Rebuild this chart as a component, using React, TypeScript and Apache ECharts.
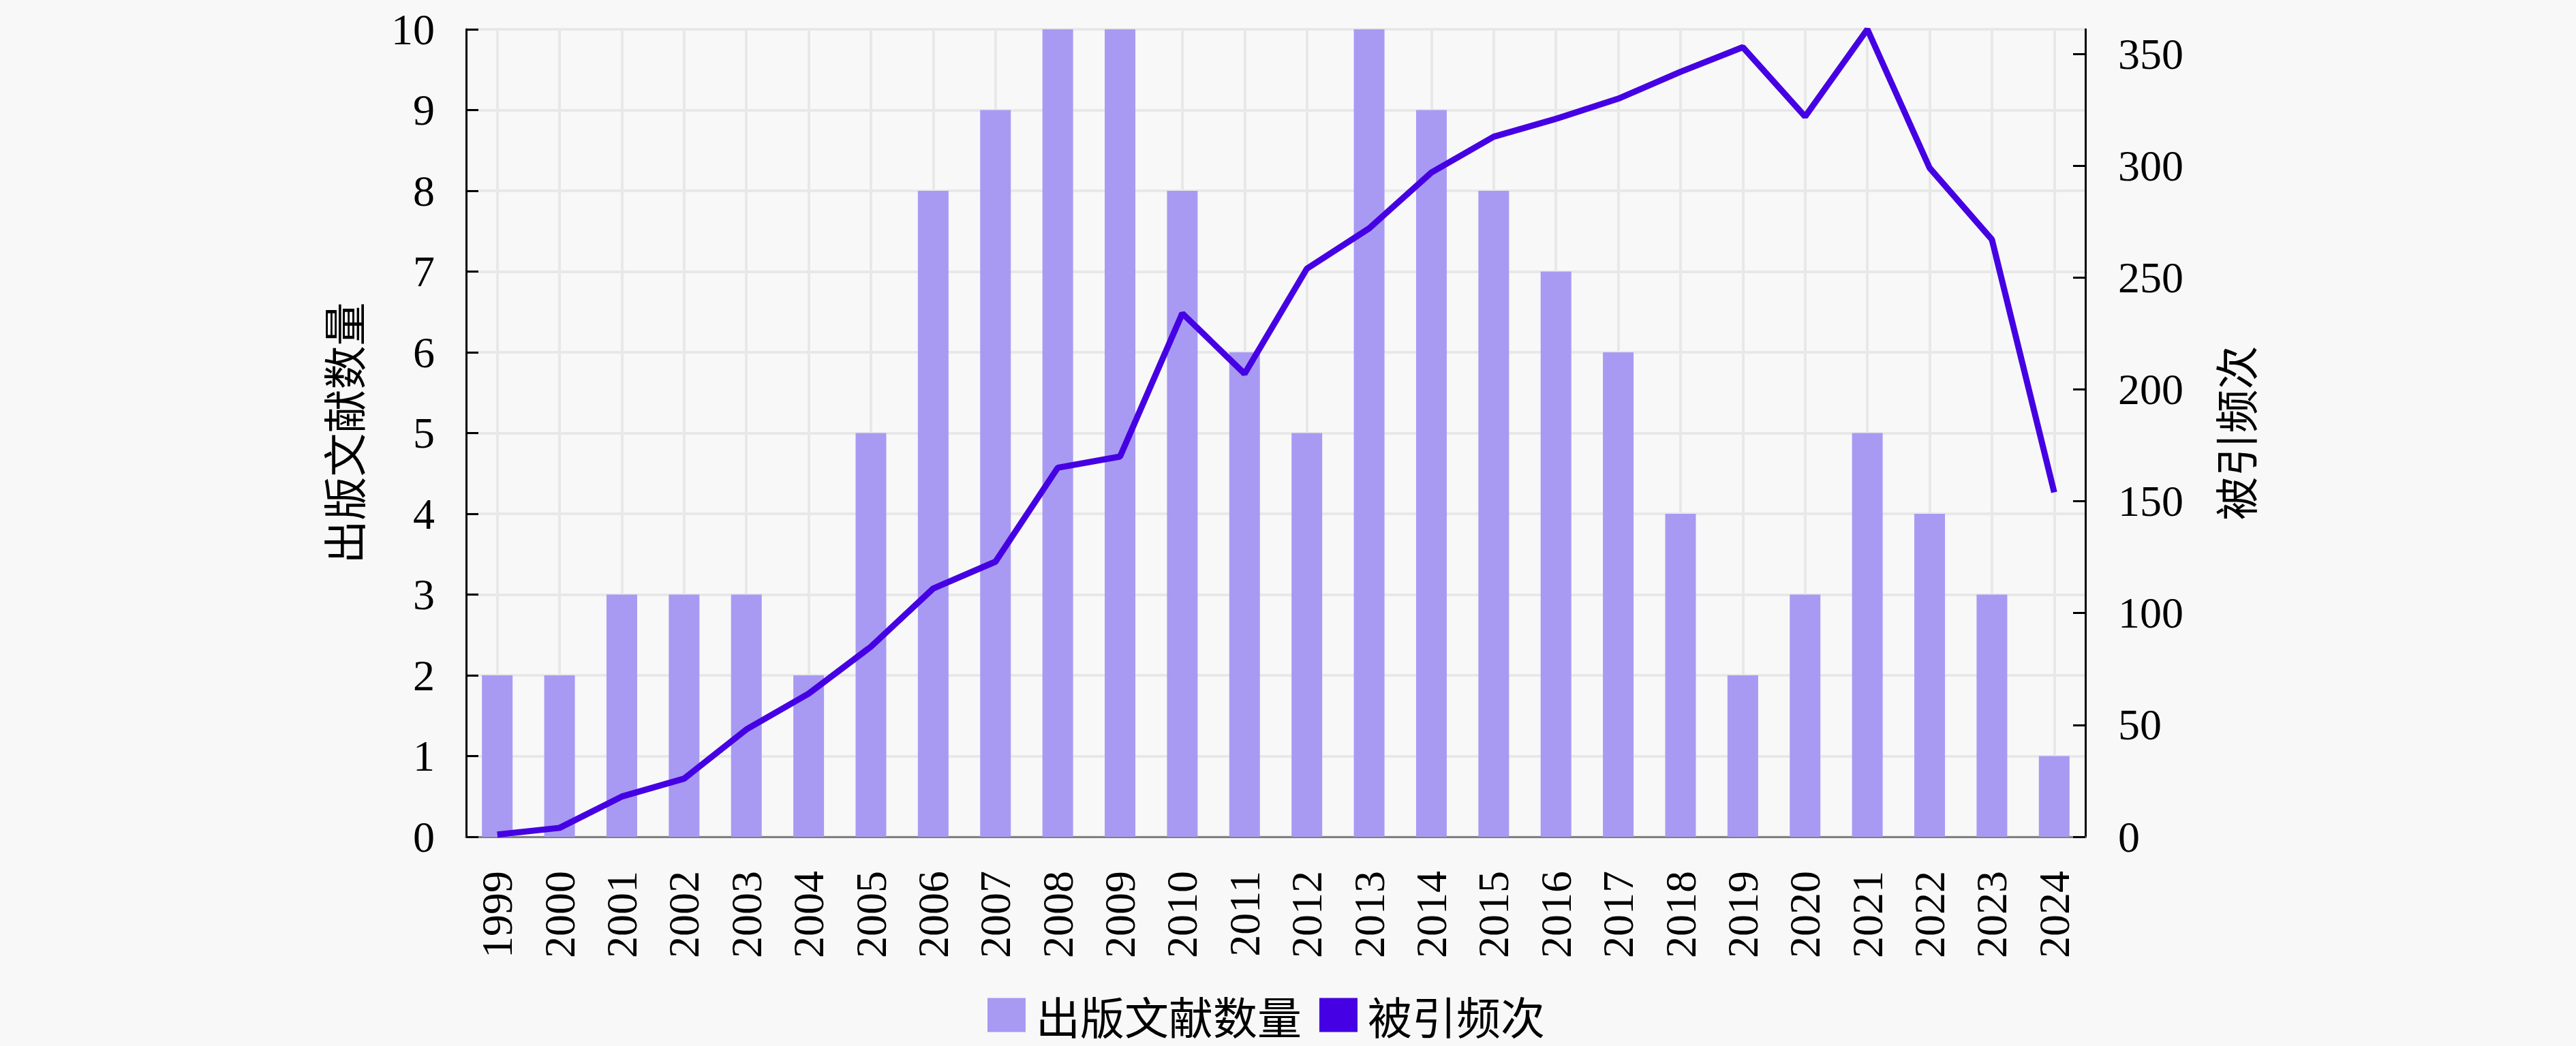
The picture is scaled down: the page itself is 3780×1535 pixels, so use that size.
import React, { useEffect, useRef } from "react";
import * as echarts from "echarts";

const years = [
  "1999", "2000", "2001", "2002", "2003", "2004", "2005", "2006", "2007",
  "2008", "2009", "2010", "2011", "2012", "2013", "2014", "2015", "2016",
  "2017", "2018", "2019", "2020", "2021", "2022", "2023", "2024",
];
const publications = [2, 2, 3, 3, 3, 2, 5, 8, 9, 10, 10, 8, 6, 5, 10, 9, 8, 7, 6, 4, 2, 3, 5, 4, 3, 1];
const citations = [1, 4, 18, 26, 48, 64, 85, 111, 123, 165, 170, 234, 207, 254, 272, 297, 313, 321, 330, 342, 353, 322, 361, 299, 267, 154];
const leftMax = 10;
const rightMax = 361;
const rightTickValues = [0, 50, 100, 150, 200, 250, 300, 350];

const barName = "出版文献数量";
const lineName = "被引频次";

const FONT = "'Liberation Serif', 'Noto Sans CJK SC', serif";
const CJK = "'Noto Sans CJK SC', 'Liberation Serif', sans-serif";

export default function App() {
  const ref = useRef<HTMLDivElement>(null);

  useEffect(() => {
    document.body.style.margin = "0";
    if (!ref.current) return;
    const chart = echarts.init(ref.current, undefined, { renderer: "svg" });
    chart.setOption({
      animation: false,
      backgroundColor: "#f8f8f8",
      grid: { left: 684, right: 720, top: 43, bottom: 307, containLabel: false },
      legend: {
        left: 1444,
        top: 1452,
        itemWidth: 56,
        itemHeight: 50,
        itemGap: 26,
        textStyle: { fontSize: 65, fontFamily: CJK, color: "#000", padding: [0, 0, 0, 10] },
        data: [
          { name: barName, icon: "rect" },
          { name: lineName, icon: "rect" },
        ],
      },
      xAxis: [
        {
          type: "category",
          data: years,
          position: "bottom",
          boundaryGap: true,
          axisLine: { show: true, lineStyle: { color: "#000", width: 3 } },
          axisTick: { show: true, inside: true, alignWithLabel: true, length: 14, lineStyle: { color: "#222", width: 3 } },
          axisLabel: { rotate: 90, margin: 50, fontSize: 64, fontFamily: FONT, color: "#000", interval: 0 },
          splitLine: { show: true, alignWithLabel: true, lineStyle: { color: "#e8e8e8", width: 4 } },
        },
        {
          type: "category",
          data: years,
          position: "top",
          boundaryGap: true,
          axisLine: { show: true, lineStyle: { color: "#808080", width: 3 } },
          axisTick: { show: false },
          axisLabel: { show: false },
          splitLine: { show: false },
        },
      ],
      yAxis: [
        {
          type: "value",
          min: 0,
          max: leftMax,
          interval: 1,
          position: "left",
          name: barName,
          nameLocation: "middle",
          nameRotate: 90,
          nameGap: 150,
          nameTextStyle: { fontSize: 64, fontFamily: CJK, color: "#000" },
          axisLine: { show: true, lineStyle: { color: "#000", width: 3 } },
          axisTick: { show: true, inside: true, length: 18, lineStyle: { color: "#000", width: 3 } },
          axisLabel: { margin: 46, fontSize: 64, fontFamily: FONT, color: "#000" },
          splitLine: { show: true, lineStyle: { color: "#e8e8e8", width: 4 } },
        },
        {
          type: "value",
          min: 0,
          max: rightMax,
          interval: 50,
          position: "right",
          name: lineName,
          nameLocation: "middle",
          nameRotate: 90,
          nameGap: 186,
          nameTextStyle: { fontSize: 64, fontFamily: CJK, color: "#000" },
          axisLine: { show: true, lineStyle: { color: "#000", width: 3 } },
          axisTick: { show: true, inside: true, length: 18, customValues: rightTickValues, lineStyle: { color: "#000", width: 3 } },
          axisLabel: { margin: 48, fontSize: 64, fontFamily: FONT, color: "#000", customValues: rightTickValues },
          splitLine: { show: false },
        },
      ],
      series: [
        {
          name: barName,
          type: "bar",
          xAxisIndex: 0,
          yAxisIndex: 0,
          data: publications,
          barWidth: 45,
          itemStyle: { color: "#a89af2" },
          z: 2,
        },
        {
          name: lineName,
          type: "line",
          xAxisIndex: 0,
          yAxisIndex: 1,
          data: citations,
          symbol: "none",
          showSymbol: false,
          color: "#4500e3",
          lineStyle: { color: "#4500e3", width: 9 },
          itemStyle: { color: "#4500e3" },
          z: 3,
        },
      ],
    });
    return () => chart.dispose();
  }, []);

  return <div ref={ref} style={{ width: 3780, height: 1535 }} />;
}
